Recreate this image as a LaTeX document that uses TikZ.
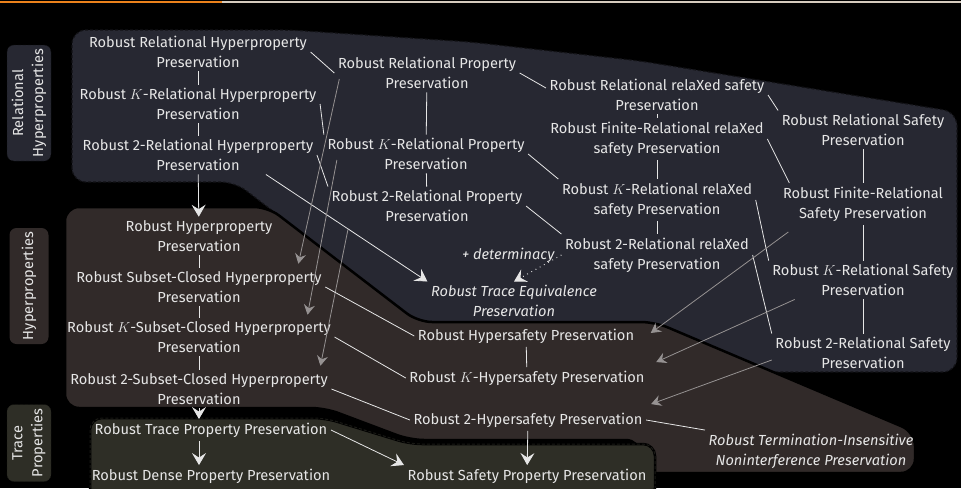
\documentclass[tikz,border=0pt]{standalone}
\usepackage{fontspec}
\setmainfont{Fira Sans}
\usetikzlibrary{arrows.meta}
\definecolor{relbg}{RGB}{39,40,50}
\definecolor{hypbg}{RGB}{49,42,41}
\definecolor{trbg}{RGB}{46,46,38}
\definecolor{txt}{RGB}{230,230,230}
\definecolor{arrgray}{RGB}{150,146,146}
\definecolor{barorange}{RGB}{235,129,27}
\definecolor{barbg}{RGB}{214,203,190}
\begin{document}
\begin{tikzpicture}[x=1pt,y=-1pt,
  crit/.style={text=txt,align=center,inner sep=3.5pt,font=\fontsize{14.6}{20}\selectfont},
  critit/.style={crit,font=\fontsize{14.6}{20}\selectfont\itshape},
  link/.style={draw=txt,line width=0.8pt},
  big/.style={link,-{Stealth[length=12pt,width=14pt,inset=4.5pt]}},
  weak/.style={draw=arrgray,line width=0.8pt,-{Stealth[length=10pt,width=11pt,inset=3.5pt]}},
  side/.style={crit,rotate=90,rounded corners=7pt,minimum width=116pt}]
\useasboundingbox (0,0) rectangle (961,488);
\fill[black] (0,0) rectangle (961,488);
\fill[barorange] (0,1) rectangle (222,3);
\fill[barbg] (222,1) rectangle (961,3);
\clip (0,0) rectangle (961,488);

\filldraw[fill=relbg,draw=relbg!45!black,densely dashed,line width=1.2pt,rounded corners=14pt]
  (72,182) -- (72,30) -- (290,30) -- (470,42) -- (640,61) -- (957,112) -- (957,372)
  -- (450,372) -- (450,347) -- (235,182) -- cycle;
\filldraw[fill=hypbg,draw=black,line width=2.5pt,rounded corners=14pt]
  (65,408) -- (65,207) -- (268,207) -- (418,322) -- (655,322) -- (915,432) -- (915,473)
  -- (640,473) -- (640,440) -- (410,440) -- (325,408) -- cycle;
\filldraw[fill=trbg,draw=black,line width=2.5pt,rounded corners=12pt,
  postaction={draw=trbg!55!black,densely dashed,line width=1pt}]
  (90,500) -- (90,418) -- (325,418) -- (410,444) -- (655,444) -- (655,500) -- cycle;

\node[side,fill=relbg,draw=relbg!45!black,densely dashed,minimum height=44pt] (lrel) at (29,103) {Relational\\Hyperproperties};
\node[side,fill=hypbg,minimum height=39pt] (lhyp) at (29,286) {Hyperproperties};
\node[side,fill=trbg,draw=trbg!55!black,densely dashed,minimum width=77pt,minimum height=44pt] (ltr) at (29,443) {Trace\\Properties};

\node[crit] (RRHP) at (198,52) {Robust Relational Hyperproperty\\Preservation};
\node[crit] (RKRHP) at (198,104) {Robust $K$-Relational Hyperproperty\\Preservation};
\node[crit] (R2RHP) at (198,155) {Robust 2-Relational Hyperproperty\\Preservation};
\node[crit] (RRPP) at (427,73) {Robust Relational Property\\Preservation};
\node[crit] (RKRPP) at (426,154) {Robust $K$-Relational Property\\Preservation};
\node[crit] (R2RPP) at (427,206) {Robust 2-Relational Property\\Preservation};
\node[crit] (RRrSP) at (657,95) {Robust Relational relaXed safety\\Preservation};
\node[crit] (RFRrSP) at (657,139) {Robust Finite-Relational relaXed\\safety Preservation};
\node[crit] (RKRrSP) at (657,200) {Robust $K$-Relational relaXed\\safety Preservation};
\node[crit] (R2RrSP) at (657,255) {Robust 2-Relational relaXed\\safety Preservation};
\node[crit] (RRSP) at (863,130) {Robust Relational Safety\\Preservation};
\node[crit] (RFRSP) at (863,204) {Robust Finite-Relational\\Safety Preservation};
\node[crit] (RKRSP) at (863,280) {Robust $K$-Relational Safety\\Preservation};
\node[crit] (R2RSP) at (863,353) {Robust 2-Relational Safety\\Preservation};
\node[critit] (RTEP) at (514,301) {Robust Trace Equivalence\\Preservation};

\node[crit] (RHP) at (199,236) {Robust Hyperproperty\\Preservation};
\node[crit] (RSCHP) at (199,287) {Robust Subset-Closed Hyperproperty\\Preservation};
\node[crit] (RKSCHP) at (199,337) {Robust $K$-Subset-Closed Hyperproperty\\Preservation};
\node[crit] (R2SCHP) at (199,389) {Robust 2-Subset-Closed Hyperproperty\\Preservation};
\node[crit] (RHSP) at (526,336) {Robust Hypersafety Preservation};
\node[crit] (RKHSP) at (527,378) {Robust $K$-Hypersafety Preservation};
\node[crit] (R2HSP) at (528,420) {Robust 2-Hypersafety Preservation};
\node[critit] (RTINI) at (811,451) {Robust Termination-Insensitive\\Noninterference Preservation};

\node[crit] (RTPP) at (211,430) {Robust Trace Property Preservation};
\node[crit] (RDPP) at (211,476) {Robust Dense Property Preservation};
\node[crit] (RSPP) at (527,476) {Robust Safety Property Preservation};

\draw[link] (RRHP) -- (RKRHP);
\draw[link] (RKRHP) -- (R2RHP);
\draw[link] (RRPP) -- (RKRPP);
\draw[link] (RKRPP) -- (R2RPP);
\draw[link] (RRrSP) -- (RFRrSP);
\draw[link] (RFRrSP) -- (RKRrSP);
\draw[link] (RKRrSP) -- (R2RrSP);
\draw[link] (RRSP) -- (RFRSP);
\draw[link] (RFRSP) -- (RKRSP);
\draw[link] (RKRSP) -- (R2RSP);
\draw[link] (RRHP.east) -- (RRPP.west);
\draw[link] (RKRHP.east) -- (RKRPP.north west);
\draw[link] (R2RHP.east) -- (R2RPP.north west);
\draw[link] (RRPP.east) -- ([yshift=7pt]RRrSP.west);
\draw[link] (RKRPP.east) -- (RKRrSP.north west);
\draw[link] (R2RPP.east) -- (R2RrSP.north west);
\draw[link] (RRrSP.east) -- (RRSP.north west);
\draw[link] (RFRrSP.east) -- ([xshift=10pt]RFRSP.north west);
\draw[link] (RKRrSP.east) -- (RKRSP.north west);
\draw[link] (R2RrSP.east) -- (R2RSP.north west);

\draw[big] (R2RHP) -- (RHP);
\draw[big] (R2RHP.-16) -- (RTEP.north west);
\draw[link,loosely dotted,line width=1pt,-{Stealth[length=12pt,width=14pt,inset=4.5pt]}] (R2RrSP.west) -- (RTEP.north)
  node[pos=0,left,critit,xshift=-3pt] (det) {+ determinacy};

\draw[weak] ([xshift=5pt,yshift=-6pt]RRPP.west) -- ([xshift=-27pt,yshift=4pt]RSCHP.north east);
\draw[weak] ([xshift=13pt,yshift=-6pt]RKRPP.west) -- ([xshift=-27pt,yshift=3pt]RKSCHP.north east);
\draw[weak] ([xshift=20pt,yshift=-4pt]R2RPP.south west) -- ([xshift=-11pt,yshift=4pt]R2SCHP.north east);
\draw[weak] ([xshift=9pt,yshift=-7pt]RFRSP.south west) -- ([xshift=13pt,yshift=3pt]RHSP.east);
\draw[weak] ([xshift=26pt]RKRSP.south west) -- ([xshift=8pt,yshift=5pt]RKHSP.north east);
\draw[weak] ([yshift=-7pt]R2RSP.west) -- ([xshift=5pt,yshift=5pt]R2HSP.north east);

\draw[link] (RHP) -- (RSCHP);
\draw[link] (RSCHP) -- (RKSCHP);
\draw[link] (RKSCHP) -- (R2SCHP);
\draw[link] (RHSP) -- (RKHSP);
\draw[link] (RSCHP.east) -- (RHSP.west);
\draw[link] (RKSCHP.east) -- (RKHSP.west);
\draw[link] (R2SCHP.east) -- (R2HSP.west);
\draw[link] (R2HSP.east) -- (RTINI.north west);

\draw[big] (R2SCHP.south) -- (R2SCHP.south |- RTPP.north);
\draw[big] ([xshift=-12pt]RTPP.south) -- ([xshift=-12pt]RDPP.north);
\draw[big] (RTPP.east) -- (RSPP.north west);
\draw[big] (R2HSP) -- (RSPP);
\end{tikzpicture}
\end{document}
